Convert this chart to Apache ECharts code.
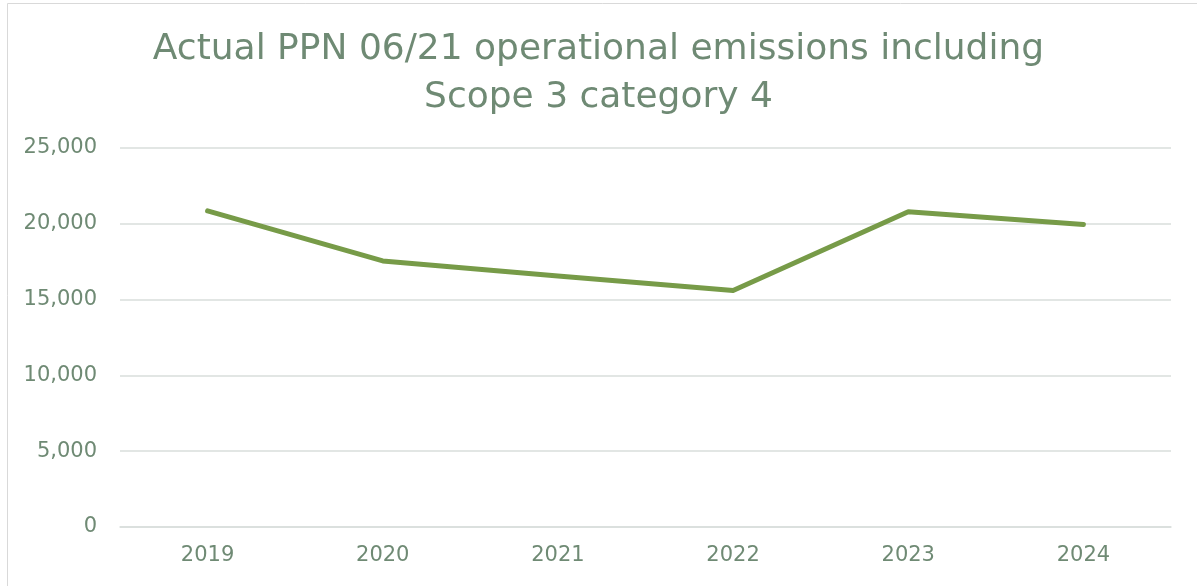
<!DOCTYPE html>
<html>
<head>
<meta charset="utf-8">
<script src="https://cdn.jsdelivr.net/npm/echarts@6/dist/echarts.min.js"></script>
<style>
  html, body { margin: 0; padding: 0; background: #fff; }
  #chart { width: 1197px; height: 586px; }
</style>
</head>
<body>
<div id="chart"></div>
<script>
// chart data
const titleText = "Actual PPN 06/21 operational emissions including\nScope 3 category 4";
const years = ["2019", "2020", "2021", "2022", "2023", "2024"];
const emissions = [20850, 17550, 16550, 15600, 20800, 19950];
const yTicks = [0, 5000, 10000, 15000, 20000, 25000];

const textColor = "#6f8a74";
const fontName = "DejaVu Sans";

const chart = echarts.init(document.getElementById("chart"));

const option = {
  animation: false,
  title: {
    text: titleText,
    left: "center",
    top: 21,
    textStyle: {
      fontFamily: fontName,
      fontWeight: "normal",
      fontSize: 36,
      lineHeight: 48,
      color: textColor,
      align: "center"
    }
  },
  // chart area border, like the Excel frame
  graphic: [
    {
      type: "rect",
      shape: { x: 7.5, y: 3.5, width: 1300, height: 700 },
      style: { fill: "none", stroke: "#d9d9d9", lineWidth: 1 },
      silent: true
    }
  ],
  grid: {
    left: 120,
    right: 26,
    top: 148,
    bottom: 59
  },
  xAxis: {
    type: "category",
    data: years,
    boundaryGap: true,
    axisLine: { lineStyle: { color: "#d9dedb", width: 1.5 } },
    axisTick: { show: false },
    axisLabel: {
      margin: 18,
      fontFamily: fontName,
      fontSize: 21,
      color: textColor
    }
  },
  yAxis: {
    type: "value",
    min: yTicks[0],
    max: yTicks[yTicks.length - 1],
    interval: yTicks[1] - yTicks[0],
    axisLine: { show: false },
    axisTick: { show: false },
    splitLine: { lineStyle: { color: "#d9dedb", width: 1.5 } },
    axisLabel: {
      margin: 23,
      fontFamily: fontName,
      fontSize: 21,
      color: textColor,
      formatter: (v) => v.toLocaleString("en-US")
    }
  },
  series: [
    {
      name: "Emissions",
      type: "line",
      data: emissions,
      symbol: "none",
      lineStyle: { color: "#779b48", width: 5, cap: "round", join: "round" }
    }
  ]
};

chart.setOption(option);
</script>
</body>
</html>
